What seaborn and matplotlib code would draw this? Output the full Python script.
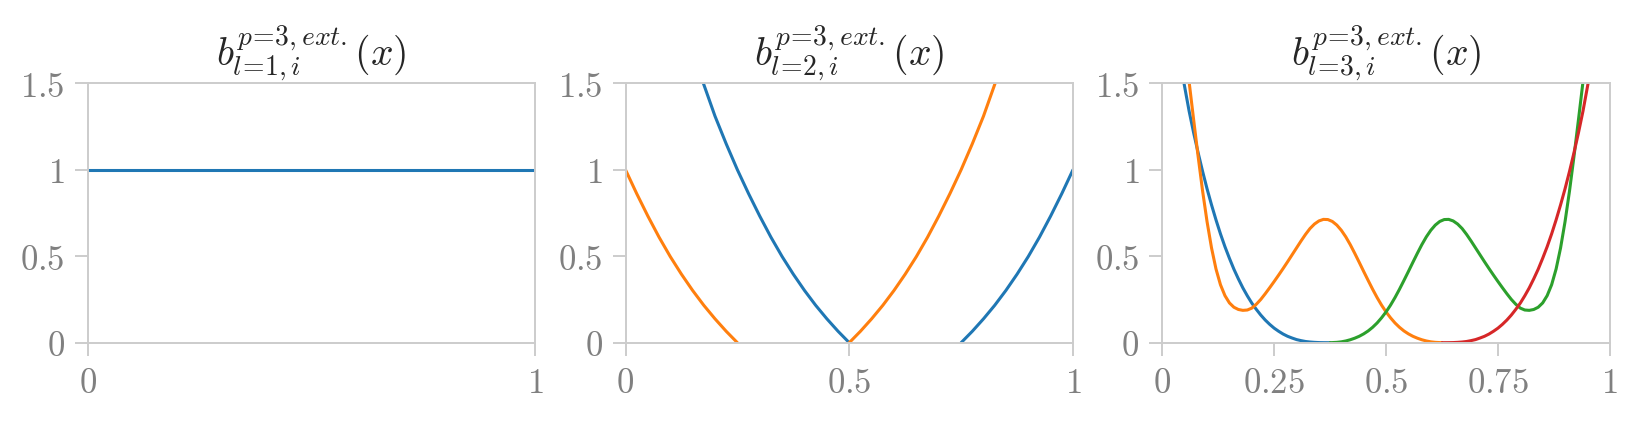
import matplotlib
matplotlib.use('Agg')
import matplotlib.pyplot as plt
import seaborn as sns
import pandas as pd

# ---- values ----
# level 1: constant
l1_x = [0.0, 1.0]
l1_y = [1.0, 1.0]

# level 2 (two functions, each drawn as two pieces)
l2_blue_a_x = [0.174, 0.200, 0.225, 0.250, 0.275, 0.300, 0.325, 0.350, 0.375, 0.400, 0.425, 0.450, 0.475, 0.500]
l2_blue_a_y = [1.500, 1.310, 1.150, 1.000, 0.862, 0.732, 0.610, 0.498, 0.396, 0.302, 0.216, 0.138, 0.066, 0.000]
l2_blue_b_x = [0.750, 0.775, 0.800, 0.825, 0.850, 0.875, 0.900, 0.925, 0.950, 0.975, 1.000]
l2_blue_b_y = [0.000, 0.066, 0.138, 0.216, 0.302, 0.396, 0.498, 0.610, 0.732, 0.862, 1.000]
l2_orange_a_x = [0.000, 0.025, 0.050, 0.075, 0.100, 0.125, 0.150, 0.175, 0.200, 0.225, 0.250]
l2_orange_a_y = [1.000, 0.862, 0.732, 0.610, 0.498, 0.396, 0.302, 0.216, 0.138, 0.066, 0.000]
l2_orange_b_x = [0.500, 0.525, 0.550, 0.575, 0.600, 0.625, 0.650, 0.675, 0.700, 0.725, 0.750, 0.775, 0.800, 0.826]
l2_orange_b_y = [0.000, 0.066, 0.138, 0.216, 0.302, 0.396, 0.498, 0.610, 0.732, 0.862, 1.000, 1.150, 1.310, 1.500]

# level 3 (four functions)
l3_blue_x = [0.0485, 0.06, 0.07, 0.08, 0.09, 0.10, 0.11, 0.12, 0.13, 0.14, 0.15, 0.16, 0.17, 0.18, 0.19,
             0.20, 0.21, 0.22, 0.23, 0.24, 0.25, 0.26, 0.27, 0.28, 0.29, 0.30, 0.31, 0.32, 0.33, 0.34,
             0.35, 0.36, 0.375]
l3_blue_y = [1.500, 1.338, 1.214, 1.099, 0.991, 0.890, 0.797, 0.710, 0.629, 0.555, 0.488, 0.425, 0.369,
             0.317, 0.271, 0.229, 0.193, 0.160, 0.131, 0.106, 0.084, 0.066, 0.050, 0.037, 0.027, 0.018,
             0.012, 0.007, 0.004, 0.002, 0.0007, 0.0002, 0.000]
l3_orange_x = [0.0603, 0.07, 0.08, 0.09, 0.10, 0.11, 0.12, 0.13, 0.14, 0.15, 0.16, 0.17, 0.18, 0.19, 0.20,
               0.21, 0.22, 0.23, 0.24, 0.25, 0.26, 0.27, 0.28, 0.29, 0.30, 0.31, 0.32, 0.33, 0.34, 0.35,
               0.36, 0.37, 0.38, 0.39, 0.40, 0.41, 0.42, 0.43, 0.44, 0.45, 0.46, 0.47, 0.48, 0.49, 0.50,
               0.51, 0.52, 0.53, 0.54, 0.55, 0.56, 0.57, 0.58, 0.59, 0.60, 0.61, 0.625]
l3_orange_y = [1.500, 1.290, 1.078, 0.878, 0.700, 0.548, 0.426, 0.335, 0.272, 0.230, 0.205, 0.192, 0.187,
               0.189, 0.200, 0.222, 0.250, 0.283, 0.318, 0.354, 0.391, 0.429, 0.468, 0.508, 0.548, 0.588,
               0.626, 0.660, 0.686, 0.704, 0.713, 0.712, 0.701, 0.680, 0.650, 0.612, 0.567, 0.517, 0.465,
               0.412, 0.360, 0.309, 0.261, 0.217, 0.178, 0.144, 0.114, 0.089, 0.068, 0.051, 0.037, 0.026,
               0.017, 0.010, 0.005, 0.002, 0.000]
l3_green_x = [0.375, 0.39, 0.40, 0.41, 0.42, 0.43, 0.44, 0.45, 0.46, 0.47, 0.48, 0.49, 0.50, 0.51, 0.52,
              0.53, 0.54, 0.55, 0.56, 0.57, 0.58, 0.59, 0.60, 0.61, 0.62, 0.63, 0.64, 0.65, 0.66, 0.67,
              0.68, 0.69, 0.70, 0.71, 0.72, 0.73, 0.74, 0.75, 0.76, 0.77, 0.78, 0.79, 0.80, 0.81, 0.82,
              0.83, 0.84, 0.85, 0.86, 0.87, 0.88, 0.89, 0.90, 0.91, 0.92, 0.93, 0.9397]
l3_green_y = [0.000, 0.002, 0.005, 0.010, 0.017, 0.026, 0.037, 0.051, 0.068, 0.089, 0.114, 0.144, 0.178,
              0.217, 0.261, 0.309, 0.360, 0.412, 0.465, 0.517, 0.567, 0.612, 0.650, 0.680, 0.701, 0.712,
              0.713, 0.704, 0.686, 0.660, 0.626, 0.588, 0.548, 0.508, 0.468, 0.429, 0.391, 0.354, 0.318,
              0.283, 0.250, 0.222, 0.200, 0.189, 0.187, 0.192, 0.205, 0.230, 0.272, 0.335, 0.426, 0.548,
              0.700, 0.878, 1.078, 1.290, 1.500]
l3_red_x = [0.625, 0.64, 0.65, 0.66, 0.67, 0.68, 0.69, 0.70, 0.71, 0.72, 0.73, 0.74, 0.75, 0.76, 0.77,
            0.78, 0.79, 0.80, 0.81, 0.82, 0.83, 0.84, 0.85, 0.86, 0.87, 0.88, 0.89, 0.90, 0.91, 0.92,
            0.93, 0.94, 0.9515]
l3_red_y = [0.000, 0.0002, 0.0007, 0.002, 0.004, 0.007, 0.012, 0.018, 0.027, 0.037, 0.050, 0.066, 0.084,
            0.106, 0.131, 0.160, 0.193, 0.229, 0.271, 0.317, 0.369, 0.425, 0.488, 0.555, 0.629, 0.710,
            0.797, 0.890, 0.991, 1.099, 1.214, 1.338, 1.500]

titles = [r'$b^{p\!=\!3,ext.}_{l\!=\!1,i}(x)$', r'$b^{p\!=\!3,ext.}_{l\!=\!2,i}(x)$',
          r'$b^{p\!=\!3,ext.}_{l\!=\!3,i}(x)$']
xticks = [[0, 1], [0, 0.5, 1], [0, 0.25, 0.5, 0.75, 1]]
xticklabels = [['0', '1'], ['0', '0.5', '1'], ['0', '0.25', '0.5', '0.75', '1']]
yticks = [0, 0.5, 1, 1.5]
yticklabels = ['0', '0.5', '1', '1.5']

sns.set_theme(style='ticks')
plt.rcParams['mathtext.fontset'] = 'cm'
plt.rcParams['font.family'] = ['DejaVu Sans']

blue, orange, green, red = '#1f77b4', '#ff7f0e', '#2ca02c', '#d62728'
grey = '#cccccc'

fig = plt.figure(figsize=(16.42, 4.21), dpi=100)
lefts = [87.5 / 1642, 625.5 / 1642, 1162.3 / 1642]
axes = [fig.add_axes([l, 0.186, 447.5 / 1642, 0.6162]) for l in lefts]

series = [
    [(l1_x, l1_y, blue)],
    [(l2_blue_a_x, l2_blue_a_y, blue), (l2_blue_b_x, l2_blue_b_y, blue),
     (l2_orange_a_x, l2_orange_a_y, orange), (l2_orange_b_x, l2_orange_b_y, orange)],
    [(l3_blue_x, l3_blue_y, blue), (l3_orange_x, l3_orange_y, orange),
     (l3_green_x, l3_green_y, green), (l3_red_x, l3_red_y, red)],
]

for i, ax in enumerate(axes):
    for xs, ys, c in series[i]:
        d = pd.DataFrame({'x': xs, 'y': ys})
        sns.lineplot(data=d, x='x', y='y', color=c, lw=2.2, ax=ax)
    ax.set_xlim(0, 1)
    ax.set_ylim(0, 1.5)
    ax.set_xlabel('')
    ax.set_ylabel('')
    ax.set_xticks(xticks[i])
    ax.set_xticklabels(['$' + t + '$' for t in xticklabels[i]])
    ax.set_yticks(yticks)
    ax.set_yticklabels(['$' + t + '$' for t in yticklabels])
    ax.tick_params(length=9.5, width=1.4, color=grey, labelcolor='#808080', labelsize=25, pad=7)
    for s in ax.spines.values():
        s.set_visible(True)
        s.set_color(grey)
        s.set_linewidth(1.4)
    ax.set_title(titles[i], fontsize=28.5, pad=6)

plt.savefig('out.png', dpi=100)
